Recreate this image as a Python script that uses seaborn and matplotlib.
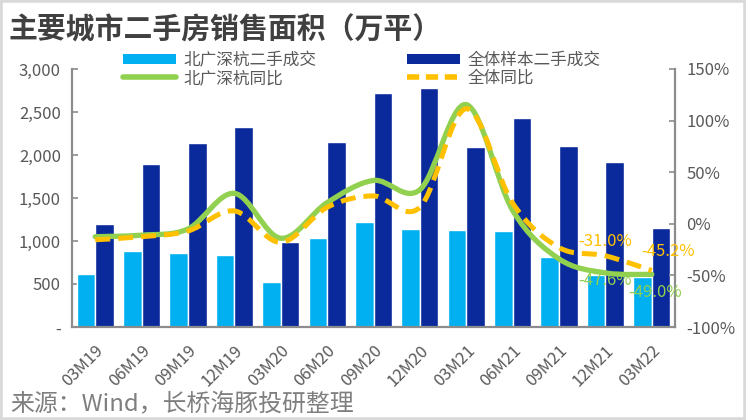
import numpy as np
import pandas as pd
import matplotlib
matplotlib.use("Agg")
import matplotlib.pyplot as plt
import seaborn as sns
from matplotlib.path import Path
from matplotlib.patches import PathPatch, Patch, Rectangle
from matplotlib.lines import Line2D
from matplotlib.ticker import FuncFormatter, MultipleLocator

# ---------------- data ----------------
periods = ["03M19", "06M19", "09M19", "12M19", "03M20", "06M20", "09M20",
           "12M20", "03M21", "06M21", "09M21", "12M21", "03M22"]
tier1_area = [612, 882, 858, 836, 522, 1034, 1220, 1140, 1128, 1116, 812, 610, 585]
all_area = [1195, 1893, 2140, 2326, 988, 2150, 2721, 2782, 2093, 2430, 2105, 1918, 1151]
tier1_yoy = [-0.125, -0.11, -0.05, 0.295, -0.14, 0.205, 0.42, 0.33, 1.155, 0.13, -0.34, -0.476, -0.490]
all_yoy = [-0.155, -0.125, -0.07, 0.125, -0.18, 0.16, 0.27, 0.16, 1.115, 0.20, -0.23, -0.310, -0.452]

name_t1_bar = "北广深杭二手成交"
name_all_bar = "全体样本二手成交"
name_t1_line = "北广深杭同比"
name_all_line = "全体同比"

title = "主要城市二手房销售面积（万平）"
source = "来源：Wind，长桥海豚投研整理"

# ---------------- style ----------------
sns.set_theme(style="white")
plt.rcParams['font.family'] = ['Noto Sans CJK SC', 'DejaVu Sans']

c_light = "#00B0F0"
c_dark = "#0A2A9B"
c_green = "#92D050"
c_yellow = "#FFC000"
c_text = "#595959"
c_axis = "#8C8C8C"

fig = plt.figure(figsize=(7.46, 4.2), dpi=100)
ax = fig.add_axes([72/746, 93/420, (675-72)/746, (327-69)/420])

df = pd.DataFrame({
    "period": periods * 2,
    "value": tier1_area + all_area,
    "series": [name_t1_bar] * len(periods) + [name_all_bar] * len(periods),
})
sns.barplot(data=df, x="period", y="value", hue="series",
            palette=[c_light, c_dark], saturation=1, width=0.8, gap=0,
            ax=ax, legend=False)

ax.set_ylim(0, 3000)
ax.set_xlim(-0.5, len(periods) - 0.5)
ax.yaxis.set_major_locator(MultipleLocator(500))
ax.yaxis.set_major_formatter(FuncFormatter(lambda v, p: "-" if v == 0 else f"{int(v):,}"))
ax.set_xlabel("")
ax.set_ylabel("")

ax2 = ax.twinx()
ax2.set_ylim(-1.0, 1.5)
ax2.yaxis.set_major_locator(MultipleLocator(0.5))
ax2.yaxis.set_major_formatter(FuncFormatter(lambda v, p: f"{v*100:.0f}%"))


def smooth_path(xs, ys):
    pts = np.column_stack([xs, ys]).astype(float)
    n = len(pts)
    verts = [pts[0]]
    codes = [Path.MOVETO]
    for i in range(n - 1):
        p0 = pts[i - 1] if i > 0 else pts[i]
        p1 = pts[i]
        p2 = pts[i + 1]
        p3 = pts[i + 2] if i + 2 < n else pts[i + 1]
        c1 = p1 + (p2 - p0) / 6.0
        c2 = p2 - (p3 - p1) / 6.0
        verts += [c1, c2, p2]
        codes += [Path.CURVE4] * 3
    return Path(verts, codes)


xpos = np.arange(len(periods))
ax2.add_patch(PathPatch(smooth_path(xpos, tier1_yoy), facecolor="none",
                        edgecolor=c_green, lw=3.8, capstyle="round", zorder=3))
ax2.add_patch(PathPatch(smooth_path(xpos, all_yoy), facecolor="none",
                        edgecolor=c_yellow, lw=3.6, linestyle=(0, (3.0, 1.6)),
                        zorder=4))

# data labels
lab_kw = dict(textcoords="offset pixels", ha="center", va="center", fontsize=12)
ax2.annotate(f"{all_yoy[11]*100:.1f}%", (11, all_yoy[11]), xytext=(0, 14), color=c_yellow, **lab_kw)
ax2.annotate(f"{tier1_yoy[11]*100:.1f}%", (11, tier1_yoy[11]), xytext=(0, -8), color=c_green, **lab_kw)
ax2.annotate(f"{all_yoy[12]*100:.1f}%", (12, all_yoy[12]), xytext=(16, 19), color=c_yellow, **lab_kw)
ax2.annotate(f"{tier1_yoy[12]*100:.1f}%", (12, tier1_yoy[12]), xytext=(3, -18), color=c_green, **lab_kw)

# axes styling
for a in (ax, ax2):
    for s in a.spines.values():
        s.set_visible(False)
ax.spines["left"].set_visible(True)
ax.spines["bottom"].set_visible(True)
ax2.spines["right"].set_visible(True)
for s in (ax.spines["left"], ax.spines["bottom"], ax2.spines["right"]):
    s.set_color(c_axis)
    s.set_linewidth(1.6)

ax.tick_params(axis="y", direction="in", length=4, width=1.2, color=c_axis,
               labelsize=12, labelcolor=c_text, pad=8, left=True)
ax2.tick_params(axis="y", direction="in", length=4, width=1.2, color=c_axis,
                labelsize=12, labelcolor=c_text, pad=8, right=True)
ax.tick_params(axis="x", length=0, labelsize=12, labelcolor=c_text, pad=11)
for lab in ax.get_xticklabels():
    lab.set_rotation(45)
    lab.set_ha("right")
    lab.set_rotation_mode("anchor")

# legend
handles = [Patch(facecolor=c_light, edgecolor="none"),
           Line2D([], [], color=c_green, lw=4),
           Patch(facecolor=c_dark, edgecolor="none"),
           Line2D([], [], color=c_yellow, lw=4, linestyle=(0, (2.2, 1.2)))]
labels = [name_t1_bar, name_t1_line, name_all_bar, name_all_line]
leg = fig.legend(handles, labels, ncol=2, loc="upper left",
                 bbox_to_anchor=(123/746, 1 - 52/420), frameon=False,
                 fontsize=12, handlelength=3.2, handletextpad=0.45,
                 columnspacing=5.4, labelspacing=0.05, borderpad=0,
                 borderaxespad=0, handleheight=0.6)
for t in leg.get_texts():
    t.set_color(c_text)

fig.text(8/746, 1 - 30/420, title, fontsize=20.8, fontweight="bold",
         color="#404040", va="center", ha="left")
fig.text(10/746, 1 - 405/420, source, fontsize=17.2, color="#7F7F7F",
         va="center", ha="left")

fig.patches.append(Rectangle((0, 0), 1, 1, transform=fig.transFigure,
                             fill=False, edgecolor="#D9D9D9", lw=4))

fig.savefig("out.png", dpi=100)
